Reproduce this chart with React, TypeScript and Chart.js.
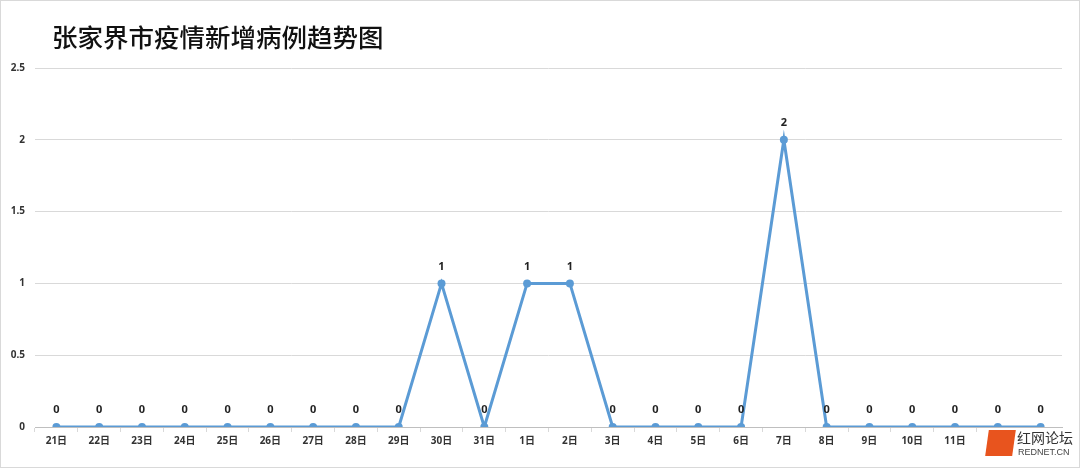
import { useEffect, useRef } from "react";
import { Chart, registerables } from "chart.js";

Chart.register(...registerables);

const days = [
  "21日", "22日", "23日", "24日", "25日", "26日", "27日", "28日", "29日", "30日", "31日",
  "1日", "2日", "3日", "4日", "5日", "6日", "7日", "8日", "9日", "10日", "11日", "12日", "13日",
];
const newCases = [0, 0, 0, 0, 0, 0, 0, 0, 0, 1, 0, 1, 1, 0, 0, 0, 0, 2, 0, 0, 0, 0, 0, 0];
const yTicks = [0, 0.5, 1, 1.5, 2, 2.5];

const labelFont = '"Noto Sans", "Noto Sans CJK SC", sans-serif';

// numbers above each point
const valueLabels = {
  id: "valueLabels",
  afterDatasetsDraw(chart: Chart) {
    const ctx = chart.ctx;
    const meta = chart.getDatasetMeta(0);
    ctx.save();
    ctx.font = `bold 11px ${labelFont}`;
    ctx.fillStyle = "#222";
    ctx.textAlign = "center";
    ctx.textBaseline = "middle";
    meta.data.forEach((pt, i) => {
      ctx.fillText(String(newCases[i]), pt.x, pt.y - 17);
    });
    ctx.restore();
  },
};

export default function App() {
  const canvasRef = useRef<HTMLCanvasElement>(null);

  useEffect(() => {
    if (!canvasRef.current) return;
    const chart = new Chart(canvasRef.current, {
      type: "line",
      data: {
        labels: days,
        datasets: [
          {
            data: newCases,
            borderColor: "#5B9BD5",
            backgroundColor: "#5B9BD5",
            borderWidth: 3,
            pointRadius: 4,
            pointBackgroundColor: "#5B9BD5",
            pointBorderWidth: 0,
            tension: 0,
          },
        ],
      },
      options: {
        animation: false,
        responsive: false,
        maintainAspectRatio: false,
        layout: { padding: { top: 68, right: 18, left: 0, bottom: 0 } },
        plugins: { legend: { display: false }, tooltip: { enabled: false } },
        scales: {
          x: {
            offset: true,
            afterFit: (s: any) => { s.height = 41; },
            grid: { display: true, drawOnChartArea: false, drawTicks: true, tickLength: 5, color: "#d9d9d9", offset: true },
            border: { color: "#bfbfbf", width: 1 },
            ticks: { color: "#333", font: { family: labelFont, size: 10, weight: "bold" }, padding: 3, maxRotation: 0, autoSkip: false },
          },
          y: {
            min: 0,
            max: 2.5,
            afterFit: (s: any) => { s.width = 35; },
            afterBuildTicks: (s: any) => { s.ticks = yTicks.map((v) => ({ value: v })); },
            grid: { color: "#d9d9d9", drawTicks: false, lineWidth: 1 },
            border: { display: false },
            ticks: {
              color: "#333",
              font: { family: labelFont, size: 10, weight: "bold" },
              padding: 10,
              callback: (v: any) => String(v),
            },
          },
        },
      },
      plugins: [valueLabels],
    });
    return () => chart.destroy();
  }, []);

  return (
    <div style={{ position: "absolute", left: 0, top: 0, width: 1080, height: 468, background: "#fff" }}>
      <canvas ref={canvasRef} width={1080} height={468} style={{ position: "absolute", left: 0, top: 0 }} />
      <div style={{ position: "absolute", left: 0, top: 0, width: 1080, height: 468, boxSizing: "border-box", border: "1px solid #d9d9d9", pointerEvents: "none" }} />
      <div style={{ position: "absolute", left: 52, top: 19, fontFamily: '"Noto Sans CJK SC", sans-serif', fontSize: 25.5, fontWeight: 500, color: "#111", lineHeight: "34px", whiteSpace: "nowrap" }}>
        张家界市疫情新增病例趋势图
      </div>
      <div style={{ position: "absolute", left: 984, top: 428, width: 92, height: 34, background: "#fff" }}>
        <div style={{ position: "absolute", left: 3, top: 2, width: 27, height: 26, background: "#E8541E", transform: "skewX(-8deg)" }} />
        <div style={{ position: "absolute", left: 33, top: 0, fontFamily: '"Noto Sans CJK SC", sans-serif', fontSize: 14, lineHeight: "18px", color: "#333", whiteSpace: "nowrap" }}>红网论坛</div>
        <div style={{ position: "absolute", left: 34, top: 19, fontFamily: '"Liberation Sans", sans-serif', fontSize: 9, lineHeight: "11px", color: "#444", whiteSpace: "nowrap" }}>REDNET.CN</div>
      </div>
    </div>
  );
}
